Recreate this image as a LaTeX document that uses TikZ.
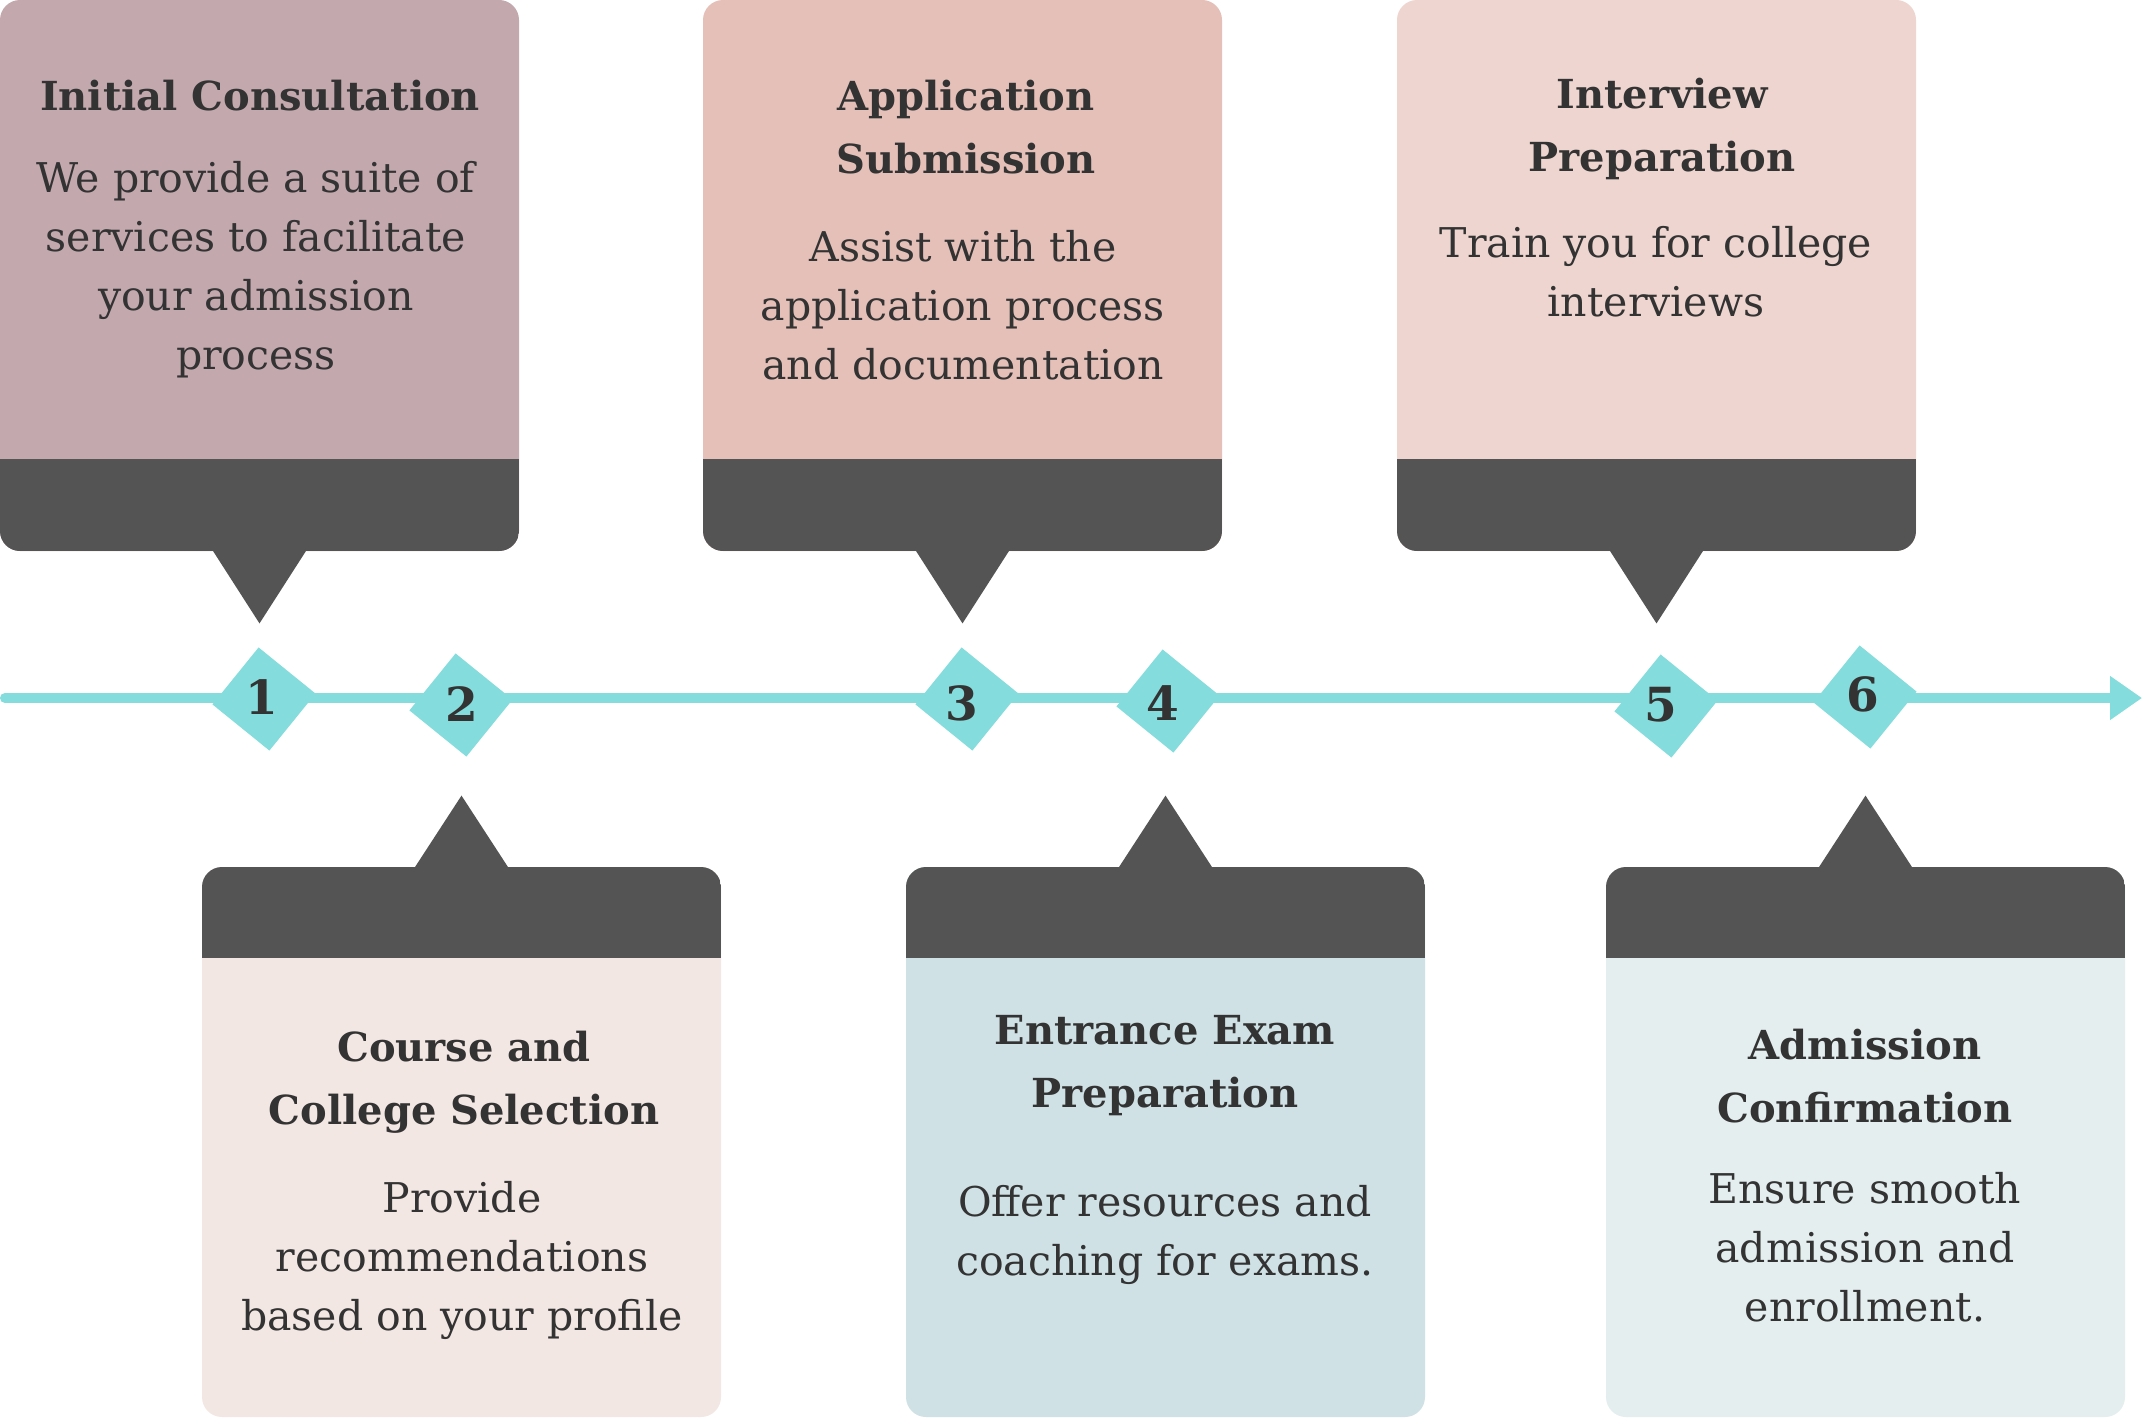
\documentclass[tikz,border=0pt]{standalone}
\usepackage{fontspec}
\setmainfont{DejaVu Serif}
\usetikzlibrary{arrows.meta,shapes.geometric,calc}
\definecolor{txt}{HTML}{333333}
\definecolor{band}{HTML}{545454}
\definecolor{teal}{HTML}{84DCDC}
\definecolor{cA}{HTML}{C3A8AE}
\definecolor{cB}{HTML}{F3E7E3}
\definecolor{cC}{HTML}{E5C0B8}
\definecolor{cD}{HTML}{CFE1E5}
\definecolor{cE}{HTML}{EED5CF}
\definecolor{cF}{HTML}{E4EEEF}
\begin{document}
\begin{tikzpicture}[x=0.5pt,y=-0.5pt,
  card/.style={rectangle, rounded corners=10pt, inner sep=0pt, minimum width=259.5pt},
  topcard/.style={card, minimum height=275.5pt,
    path picture={\fill[band, sharp corners] ([yshift=46pt]path picture bounding box.south west) rectangle (path picture bounding box.south east);}},
  botcard/.style={card, minimum height=275pt,
    path picture={\fill[band, sharp corners] ([yshift=-45.5pt]path picture bounding box.north west) rectangle (path picture bounding box.north east);}},
  pointer/.style={fill=band, sharp corners},
  dia/.style={diamond, aspect=1, minimum width=52pt, minimum height=52pt, inner sep=0pt, fill=teal, rotate=6},
  num/.style={font=\bfseries\fontsize{23.5}{23.5}\selectfont, text=txt, inner sep=0pt},
  title/.style={font=\bfseries\fontsize{20}{31.5}\selectfont, text=txt, align=center, inner sep=0pt},
  body/.style={font=\fontsize{20.5}{29.5}\selectfont, text=txt, align=center, inner sep=0pt},
  tl/.style={draw=teal, line width=5pt, line cap=round, -{Triangle[length=16pt,width=21pt]}}
]
\useasboundingbox (0,0) rectangle (2142,1418);
\fill[white] (0,0) rectangle (2142,1418);

% cards
\node[topcard, fill=cA] (b1) at (259.5,275.5) {};
\node[topcard, fill=cC] (b3) at (962.5,275.5) {};
\node[topcard, fill=cE] (b5) at (1656.5,275.5) {};
\node[botcard, fill=cB] (b2) at (461.5,1142) {};
\node[botcard, fill=cD] (b4) at (1165.5,1142) {};
\node[botcard, fill=cF] (b6) at (1865.5,1142) {};

% pointers
\foreach \b in {b1,b3,b5}{
  \fill[pointer] ($(\b.south)+(-47.5,-2)$) -- ($(\b.south)+(47.5,-2)$) -- ($(\b.south)+(0,72)$) -- cycle;
}
\foreach \b in {b2,b4,b6}{
  \fill[pointer] ($(\b.north)+(-47.5,2)$) -- ($(\b.north)+(47.5,2)$) -- ($(\b.north)+(0,-71)$) -- cycle;
}

% timeline
\coordinate (t0) at (5,698);
\coordinate (t1) at (2142,698);
\draw[tl] (t0) -- (t1);

% diamonds
\node[dia] (d1) at (264,699) {};
\node[dia] (d2) at (461,705) {};
\node[dia] (d3) at (967,699) {};
\node[dia] (d4) at (1168,701) {};
\node[dia] (d5) at (1666,706) {};
\node[dia] (d6) at (1865,697) {};
\node[num] (n1) at (262,697) {1};
\node[num] (n2) at (462,704) {2};
\node[num] (n3) at (962,703) {3};
\node[num] (n4) at (1163,703) {4};
\node[num] (n5) at (1661,705) {5};
\node[num] (n6) at (1863,694) {6};

% texts
\node[title] (h1) at (260,96) {Initial Consultation};
\node[body] (p1) at (256,270) {We provide a suite of\\services to facilitate\\your admission\\process};
\node[title] (h3) at (966,127) {Application\\Submission};
\node[body] (p3) at (963,305) {Assist with the\\application process\\and documentation};
\node[title] (h5) at (1662,129) {Interview\\Preparation};
\node[body] (p5) at (1656,272) {Train you for college\\interviews};
\node[title] (h2) at (464,1082) {Course and\\College Selection};
\node[body] (p2) at (462,1260) {Provide\\recommendations\\based on your profile};
\node[title] (h4) at (1165,1066) {Entrance Exam\\Preparation};
\node[body] (p4) at (1165,1235) {Offer resources and\\coaching for exams.};
\node[title] (h6) at (1865,1076) {Admission\\Confirmation};
\node[body] (p6) at (1865,1247) {Ensure smooth\\admission and\\enrollment.};
\end{tikzpicture}
\end{document}
